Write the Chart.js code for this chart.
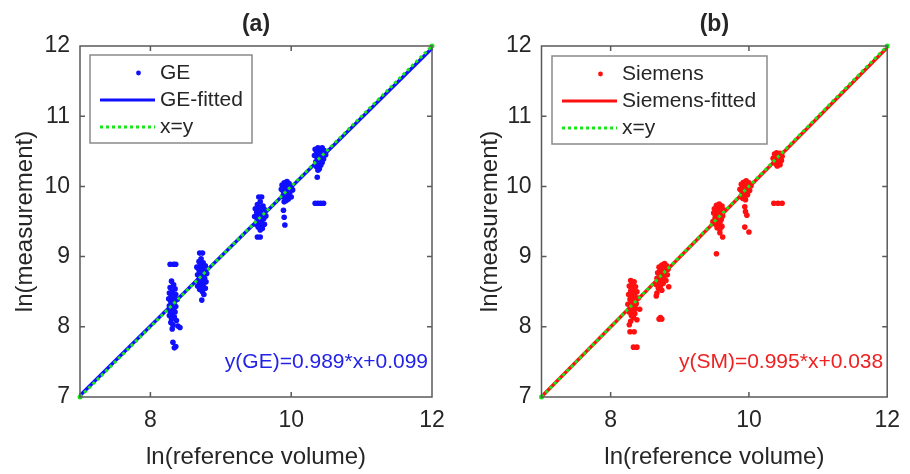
<!DOCTYPE html>
<html>
<head>
<meta charset="utf-8">
<script src="https://cdn.jsdelivr.net/npm/chart.js@4/dist/chart.umd.min.js"></script>
<style>
  html, body { margin: 0; padding: 0; background: #fff; }
  #wrap { position: relative; width: 910px; height: 474px; }
  canvas { position: absolute; top: 0; }
</style>
</head>
<body>
<div id="wrap">
  <canvas id="ca" width="455" height="474" style="left:0px"></canvas>
  <canvas id="cb" width="455" height="474" style="left:455px"></canvas>
</div>
<script>
// ---------- data ----------
const panelTitles = ['(a)', '(b)'];
const seriesNames = ['GE', 'Siemens'];
const fitNames = ['GE-fitted', 'Siemens-fitted'];
const equations = ['y(GE)=0.989*x+0.099', 'y(SM)=0.995*x+0.038'];
const fitSlope = [0.989, 0.995];
const fitIntercept = [0.099, 0.038];
const lineX = [7, 12];
const xTickValues = [8, 10, 12];
const yTickValues = [7, 8, 9, 10, 11, 12];

// GE measurements: ln(reference volume) / ln(measurement)
const geX = [
  8.30,8.33,8.28,8.35,8.31,8.27,8.36,8.30,8.33,8.26,8.38,8.29,8.34,8.31,8.27,8.36,8.30,8.33,8.28,8.35,8.31,8.27,8.34,8.30,8.37,8.29,8.32,8.39,8.42,8.31,
  8.28,8.33,8.36,8.32,8.34,8.36,
  8.70,8.74,8.72,8.69,8.75,8.71,8.78,8.66,8.73,8.69,8.76,8.72,8.80,8.67,8.74,8.70,8.77,8.68,8.73,8.79,8.70,8.75,8.67,8.72,8.78,8.70,8.74,8.76,8.73,
  9.54,9.58,9.56,9.52,9.60,9.55,9.49,9.62,9.57,9.51,9.59,9.54,9.64,9.48,9.56,9.61,9.52,9.58,9.55,9.50,9.62,9.57,9.53,9.59,9.56,9.52,9.56,
  9.94,9.90,9.97,9.87,9.93,10.00,9.90,9.96,9.86,10.02,9.93,9.89,9.98,9.92,9.95,9.88,10.00,9.91,9.96,9.93,9.90,9.89,9.90,9.91,
  10.38,10.44,10.34,10.41,10.47,10.36,10.43,10.39,10.49,10.33,10.42,10.37,10.46,10.40,10.35,10.44,10.38,10.42,10.36,10.40,10.38,10.37,10.34,10.38,10.42,10.46
];
const geY = [
  8.65,8.60,8.56,8.54,8.50,8.48,8.46,8.44,8.42,8.40,8.39,8.36,8.35,8.32,8.30,8.29,8.27,8.25,8.22,8.21,8.19,8.16,8.14,8.11,8.09,8.06,8.03,8.01,7.99,7.97,
  8.89,8.89,8.89,7.78,7.70,7.72,
  9.05,9.05,8.97,8.93,8.91,8.88,8.87,8.85,8.84,8.81,8.80,8.77,8.76,8.74,8.73,8.70,8.69,8.66,8.65,8.64,8.62,8.60,8.58,8.56,8.55,8.53,8.50,8.46,8.38,
  9.85,9.85,9.78,9.74,9.72,9.70,9.68,9.67,9.65,9.63,9.61,9.59,9.58,9.57,9.56,9.54,9.52,9.50,9.48,9.46,9.46,9.44,9.42,9.40,9.38,9.28,9.28,
  10.07,10.05,10.04,10.02,10.01,10.00,9.98,9.97,9.96,9.95,9.94,9.92,9.91,9.89,9.87,9.86,9.85,9.83,9.82,9.80,9.78,9.66,9.56,9.45,
  10.55,10.55,10.53,10.52,10.51,10.49,10.48,10.46,10.45,10.44,10.42,10.40,10.39,10.37,10.35,10.34,10.32,10.30,10.28,10.25,10.23,10.13,9.76,9.76,9.76,9.76
];

// Siemens measurements
const smX = [
  8.29,8.34,8.31,8.27,8.36,8.32,8.29,8.38,8.33,8.26,8.35,8.30,8.40,8.28,8.34,8.31,8.37,8.25,8.33,8.29,8.36,8.42,8.31,8.27,8.35,8.30,8.33,8.38,8.29,
  8.27,8.28,8.34,8.33,8.38,
  8.78,8.74,8.81,8.70,8.77,8.83,8.72,8.79,8.68,8.75,8.82,8.71,8.77,8.67,8.74,8.80,8.70,8.76,8.66,8.72,8.84,8.69,8.74,8.67,8.66,
  8.70,8.74,8.72,
  9.57,9.53,9.61,9.56,9.50,9.63,9.55,9.59,9.49,9.53,9.62,9.56,9.51,9.60,9.54,9.48,9.58,9.52,9.56,9.61,9.54,9.58,
  9.58,9.62,9.53,
  9.96,9.92,10.00,9.89,9.95,10.03,9.91,9.98,9.87,9.94,10.01,9.90,9.96,9.92,9.98,9.89,9.94,9.91,9.95,
  9.94,9.95,9.97,9.94,10.00,
  10.40,10.45,10.37,10.43,10.48,10.39,10.35,10.44,10.41,10.47,10.37,10.42,10.39,10.45,10.41,
  10.36,10.42,10.48
];
const smY = [
  8.66,8.64,8.61,8.58,8.57,8.54,8.51,8.50,8.48,8.46,8.44,8.42,8.41,8.39,8.37,8.35,8.33,8.32,8.30,8.28,8.26,8.25,8.23,8.21,8.19,8.16,8.13,8.10,8.08,
  8.03,7.93,7.93,7.71,7.71,
  8.90,8.88,8.87,8.85,8.84,8.82,8.80,8.79,8.77,8.76,8.74,8.72,8.71,8.69,8.67,8.66,8.64,8.62,8.60,8.58,8.57,8.55,8.52,8.48,8.44,
  8.11,8.11,8.13,
  9.75,9.73,9.72,9.70,9.68,9.67,9.65,9.63,9.62,9.60,9.58,9.57,9.55,9.53,9.51,9.50,9.48,9.46,9.44,9.43,9.41,9.39,
  9.34,9.28,9.04,
  10.08,10.06,10.05,10.03,10.02,10.01,9.99,9.98,9.96,9.95,9.94,9.92,9.91,9.89,9.88,9.86,9.85,9.83,9.81,
  9.71,9.64,9.59,9.42,9.35,
  10.48,10.47,10.46,10.44,10.43,10.42,10.40,10.40,10.38,10.37,10.36,10.34,10.32,10.31,10.29,
  9.76,9.76,9.76
];

// ---------- drawing ----------
const FONT = "'Liberation Sans', Arial, Helvetica, sans-serif";
const TEXT = '#262626';
const GREEN = '#19e619';

function toPoints(xs, ys) { return xs.map((x, i) => ({ x: x, y: ys[i] })); }

const decorPlugin = {
  id: 'decor',
  afterDatasetsDraw(chart, args, opts) {
    const ctx = chart.ctx;
    const a = chart.chartArea;
    const xs = chart.scales.x, ys = chart.scales.y;
    ctx.save();
    // box
    ctx.strokeStyle = '#5a5a5a';
    ctx.lineWidth = 1.5;
    ctx.strokeRect(a.left, a.top, a.right - a.left, a.bottom - a.top);
    // inward ticks
    ctx.beginPath();
    [8, 10].forEach(v => {
      const px = xs.getPixelForValue(v);
      ctx.moveTo(px, a.bottom); ctx.lineTo(px, a.bottom - 5);
      ctx.moveTo(px, a.top); ctx.lineTo(px, a.top + 5);
    });
    [8, 9, 10, 11].forEach(v => {
      const py = ys.getPixelForValue(v);
      ctx.moveTo(a.left, py); ctx.lineTo(a.left + 5, py);
      ctx.moveTo(a.right, py); ctx.lineTo(a.right - 5, py);
    });
    ctx.stroke();
    // title
    ctx.fillStyle = TEXT;
    ctx.font = 'bold 23px ' + FONT;
    ctx.textAlign = 'center';
    ctx.textBaseline = 'middle';
    ctx.fillText(opts.title, (a.left + a.right) / 2, 25);
    // equation
    ctx.fillStyle = opts.eqColor;
    ctx.font = '21px ' + FONT;
    ctx.textAlign = 'right';
    ctx.fillText(opts.equation, a.right - 4, 362);
    // legend
    const L = opts.legend;
    ctx.fillStyle = '#ffffff';
    ctx.fillRect(L.x, L.y, L.w, L.h);
    ctx.strokeStyle = '#8a8a8a';
    ctx.lineWidth = 1.5;
    ctx.strokeRect(L.x, L.y, L.w, L.h);
    const lx0 = L.x + 10, lx1 = L.x + 65, tx = L.x + 70;
    const r1 = L.y + 18, r2 = L.y + 45, r3 = L.y + 72;
    // marker
    ctx.fillStyle = opts.color;
    ctx.beginPath(); ctx.arc((lx0 + lx1) / 2 + 11, r1, 2.4, 0, Math.PI * 2); ctx.fill();
    // fitted line
    ctx.strokeStyle = opts.color; ctx.lineWidth = 3;
    ctx.beginPath(); ctx.moveTo(lx0, r2); ctx.lineTo(lx1, r2); ctx.stroke();
    // dotted
    ctx.strokeStyle = GREEN; ctx.lineWidth = 3; ctx.setLineDash([3, 3]);
    ctx.beginPath(); ctx.moveTo(lx0, r3); ctx.lineTo(lx1, r3); ctx.stroke();
    ctx.setLineDash([]);
    ctx.fillStyle = TEXT;
    ctx.font = '21px ' + FONT;
    ctx.textAlign = 'left';
    ctx.fillText(opts.names[0], tx, r1);
    ctx.fillText(opts.names[1], tx, r2);
    ctx.fillText('x=y', tx, r3);
    ctx.restore();
  }
};

function makeChart(id, k, xs, ys, color, eqColor, geom) {
  const fitData = lineX.map(x => ({ x: x, y: fitSlope[k] * x + fitIntercept[k] }));
  const idData = lineX.map(x => ({ x: x, y: x }));
  return new Chart(document.getElementById(id), {
    type: 'scatter',
    data: {
      datasets: [
        { label: 'x=y', data: idData, type: 'line', order: 1, borderColor: GREEN, backgroundColor: GREEN,
          borderWidth: 3, borderDash: [3, 3], pointRadius: 2.5, pointBorderWidth: 0, clip: false, fill: false },
        { label: fitNames[k], data: fitData, type: 'line', order: 2, borderColor: color, borderWidth: 3.5,
          pointRadius: 0, clip: false, fill: false },
        { label: seriesNames[k], data: toPoints(xs, ys), order: 3, backgroundColor: color, borderWidth: 0,
          pointRadius: 2.8, pointHoverRadius: 2.8 }
      ]
    },
    options: {
      responsive: false,
      animation: false,
      events: [],
      layout: { padding: { left: 0, right: geom.right, top: 46, bottom: 0 } },
      plugins: {
        legend: { display: false },
        tooltip: { enabled: false },
        decor: {
          title: panelTitles[k], equation: equations[k], eqColor: eqColor, color: color,
          names: [seriesNames[k], fitNames[k]], legend: geom.legend
        }
      },
      scales: {
        x: {
          type: 'linear', min: 7, max: 12,
          afterBuildTicks: s => { s.ticks = xTickValues.map(v => ({ value: v })); },
          afterFit: s => { s.height = 77; },
          grid: { display: false, drawTicks: false },
          border: { display: false },
          ticks: { padding: 10, color: TEXT, font: { family: FONT, size: 23 }, maxRotation: 0 },
          title: { display: true, text: 'ln(reference volume)', color: TEXT,
                   font: { family: FONT, size: 24 }, padding: { top: 0, bottom: 2 } }
        },
        y: {
          type: 'linear', min: 7, max: 12,
          afterBuildTicks: s => { s.ticks = yTickValues.map(v => ({ value: v })); },
          afterFit: s => { s.width = geom.yWidth; },
          grid: { display: false, drawTicks: false },
          border: { display: false },
          ticks: { padding: 10, color: TEXT, font: { family: FONT, size: 23 } },
          title: { display: true, text: 'ln(measurement)', color: TEXT,
                   font: { family: FONT, size: 24 }, padding: { top: geom.yTitlePad, bottom: 0 } }
        }
      }
    },
    plugins: [decorPlugin]
  });
}

makeChart('ca', 0, geX, geY, '#1010ff', '#2323e8',
  { right: 23, yWidth: 80, yTitlePad: 11, legend: { x: 90, y: 55, w: 162, h: 88 } });
makeChart('cb', 1, smX, smY, '#ff1010', '#ee2222',
  { right: 16, yWidth: 86.5, yTitlePad: 21, legend: { x: 97, y: 56, w: 215, h: 88 } });
</script>
</body>
</html>
